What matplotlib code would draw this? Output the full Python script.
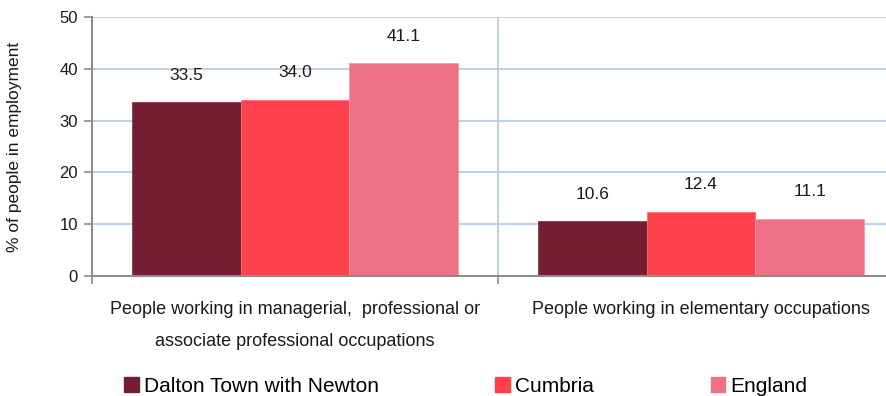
import matplotlib
matplotlib.use("Agg")
import matplotlib.pyplot as plt
from matplotlib.patches import Patch
import numpy as np

plt.rcParams['font.family'] = ['Liberation Sans', 'DejaVu Sans']

categories = ["People working in managerial,  professional or\nassociate professional occupations",
              "People working in elementary occupations"]
series_names = ["Dalton Town with Newton", "Cumbria", "England"]
dalton = [33.5, 10.6]
cumbria = [34.0, 12.4]
england = [41.1, 11.1]
yticks = [0, 10, 20, 30, 40, 50]

colors = ["#751E33", "#FF414D", "#EE7285"]
edges = ["#8a3a4c", "#ff6b74", "#f59aa8"]

W, H = 886, 396
fig = plt.figure(figsize=(W / 100, H / 100), dpi=100)
ax_l, ax_r, ax_t, ax_b = 92, 904, 17, 276
ax = fig.add_axes([ax_l / W, 1 - ax_b / H, (ax_r - ax_l) / W, (ax_b - ax_t) / H])

x = np.arange(len(categories))
bw = 0.2675
all_series = [dalton, cumbria, england]
for i, (vals, c, ec) in enumerate(zip(all_series, colors, edges)):
    xs = x + (i - 1) * bw
    ax.bar(xs, vals, width=bw, color=c, edgecolor=ec, linewidth=0.6, zorder=3)
    for xi, v in zip(xs, vals):
        ax.annotate(f"{v:.1f}", (xi, v), xytext=(0, 19.5), textcoords="offset points",
                    ha="center", va="center", fontsize=12.5, color="#1a1a1a", zorder=4)

ax.set_xlim(-0.5, len(categories) - 0.5)
ax.set_ylim(0, 50)
ax.set_yticks(yticks)
ax.set_yticklabels([str(t) for t in yticks], fontsize=12, color="#1a1a1a")
ax.tick_params(axis="y", length=6, width=1.2, color="#8c8c8c", pad=4)

# gridlines
ax.grid(axis="y", color="#B9CDE5", linewidth=1.3, zorder=0)
for b in np.arange(0.5, len(categories) - 0.5, 1):
    ax.axvline(b, color="#B9CDE5", linewidth=1.3, zorder=0)

# bottom ticks at category boundaries
ax.set_xticks(np.arange(-0.5, len(categories), 1))
ax.set_xticklabels([])
ax.tick_params(axis="x", length=6, width=1.2, color="#8c8c8c")

for s in ["top", "right"]:
    ax.spines[s].set_visible(False)
for s in ["left", "bottom"]:
    ax.spines[s].set_color("#8c8c8c")
    ax.spines[s].set_linewidth(1.5)
ax.spines["left"].set_zorder(5)
ax.spines["bottom"].set_zorder(5)

# category labels
line_y = [310, 342]
for xi, lab in zip(x, categories):
    for j, line in enumerate(lab.split("\n")):
        yfrac = (ax_b - line_y[j]) / (ax_b - ax_t)
        ax.text(xi, yfrac, line, transform=ax.get_xaxis_transform(), ha="center", va="center",
                fontsize=13, color="#1a1a1a", clip_on=False)

ax.set_ylabel("% of people in employment", fontsize=12.5, color="#1a1a1a")
ax.yaxis.set_label_coords(-(92 - 22) / (ax_r - ax_l), 0.5)

handles = [Patch(facecolor=c, edgecolor=c) for c in colors]
fig.legend(handles, series_names, loc="center left", bbox_to_anchor=(124 / W, 1 - 386 / H),
           ncol=3, frameon=False, fontsize=15, handlelength=0.7, handleheight=0.7,
           handletextpad=0.25, columnspacing=5.6, borderpad=0, borderaxespad=0)

fig.savefig("out.png", dpi=100)
